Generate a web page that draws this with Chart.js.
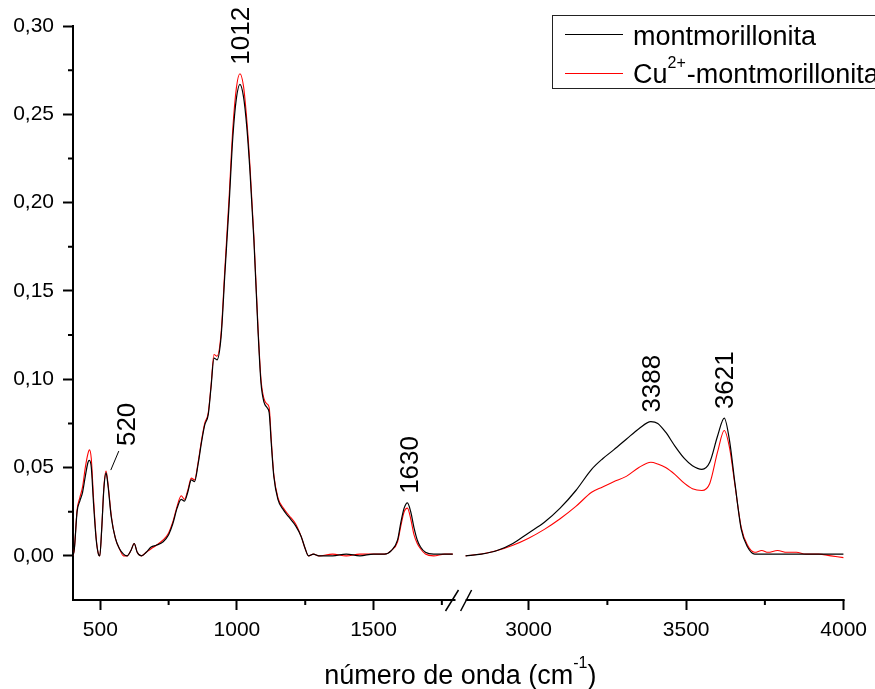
<!DOCTYPE html>
<html>
<head>
<meta charset="utf-8">
<script src="https://cdn.jsdelivr.net/npm/chart.js@4"></script>
<style>
  body { margin: 0; background: #fff; }
  #wrap { width: 875px; height: 689px; }
</style>
</head>
<body>
<div id="wrap"><canvas id="irChart"></canvas></div>
<script>
// espectro antes do corte (cm-1)
const waveLeft = [400, 405, 415, 425, 435, 445, 455, 460, 467, 475, 485, 493, 498, 505, 513, 521, 528, 540, 555, 570, 585, 598,
  612, 624, 635, 650, 668, 686, 705, 730, 750, 765, 781, 796, 808, 820, 833, 845, 858, 870, 882, 895, 905, 916, 927, 942,
  956, 971, 985, 998, 1011, 1024, 1036, 1048, 1062, 1077, 1088, 1099, 1110, 1118, 1126, 1135, 1150, 1170, 1190, 1215,
  1235, 1250, 1262, 1280, 1300, 1350, 1400, 1450, 1500, 1540, 1565, 1588, 1600, 1612, 1624, 1636, 1648, 1660, 1672,
  1690, 1720, 1760, 1790];
const montLeft = [0.000, 0.004, 0.025, 0.031, 0.036, 0.045, 0.053, 0.054, 0.050, 0.030, 0.009, 0.001, 0.000, 0.015, 0.038,
  0.047, 0.040, 0.022, 0.010, 0.004, 0.001, 0.000, 0.003, 0.007, 0.002, 0.000, 0.002, 0.005, 0.006, 0.008, 0.012, 0.018,
  0.027, 0.032, 0.031, 0.036, 0.043, 0.042, 0.052, 0.064, 0.074, 0.080, 0.095, 0.112, 0.111, 0.124, 0.160, 0.198, 0.237,
  0.259, 0.267, 0.260, 0.243, 0.217, 0.179, 0.128, 0.098, 0.087, 0.084, 0.081, 0.063, 0.045, 0.032, 0.026, 0.022, 0.017,
  0.011, 0.004, 0.000, 0.001, 0.000, 0.000, 0.001, 0.000, 0.001, 0.001, 0.003, 0.009, 0.019, 0.027, 0.030, 0.025, 0.016,
  0.009, 0.005, 0.002, 0.001, 0.001, 0.001];
const cuLeft = [0.000, 0.004, 0.026, 0.033, 0.039, 0.050, 0.058, 0.060, 0.055, 0.033, 0.010, 0.001, 0.000, 0.015, 0.039,
  0.048, 0.041, 0.023, 0.010, 0.004, 0.000, 0.000, 0.003, 0.007, 0.002, 0.000, 0.002, 0.004, 0.006, 0.009, 0.013, 0.019,
  0.028, 0.034, 0.032, 0.037, 0.044, 0.043, 0.053, 0.065, 0.075, 0.081, 0.096, 0.114, 0.113, 0.126, 0.163, 0.202, 0.242,
  0.265, 0.273, 0.266, 0.247, 0.220, 0.181, 0.130, 0.100, 0.089, 0.086, 0.084, 0.065, 0.046, 0.033, 0.027, 0.023, 0.018,
  0.011, 0.004, 0.000, 0.001, 0.000, 0.001, 0.000, 0.001, 0.001, 0.001, 0.003, 0.008, 0.017, 0.025, 0.027, 0.021, 0.012,
  0.007, 0.004, 0.001, 0.000, 0.001, 0.001];

// espectro depois do corte
const waveRight = [2800, 2850, 2900, 2950, 3000, 3050, 3100, 3150, 3200, 3235, 3270, 3310, 3350, 3388, 3410, 3435, 3465,
  3495, 3520, 3550, 3575, 3600, 3621, 3638, 3655, 3675, 3695, 3718, 3740, 3760, 3790, 3820, 3850, 3880, 3920, 3960, 4000];
const montRight = [0.000, 0.001, 0.003, 0.007, 0.013, 0.019, 0.027, 0.037, 0.049, 0.055, 0.060, 0.066, 0.072, 0.076, 0.075,
  0.070, 0.062, 0.055, 0.051, 0.049, 0.053, 0.068, 0.078, 0.065, 0.041, 0.015, 0.005, 0.001, 0.001, 0.001, 0.001, 0.001,
  0.001, 0.001, 0.001, 0.001, 0.001];
const cuRight = [0.000, 0.001, 0.003, 0.006, 0.010, 0.015, 0.021, 0.028, 0.036, 0.039, 0.042, 0.045, 0.050, 0.053, 0.052,
  0.050, 0.046, 0.041, 0.038, 0.037, 0.041, 0.059, 0.071, 0.061, 0.040, 0.016, 0.006, 0.002, 0.003, 0.002, 0.003, 0.002,
  0.002, 0.001, 0.001, 0.000, -0.001];

const xMajor = [500, 1000, 1500, 3000, 3500, 4000];
const xMinor = [750, 1250, 1750, 3250, 3750];
const yMajor = [0.00, 0.05, 0.10, 0.15, 0.20, 0.25, 0.30];
const yMinor = [0.025, 0.075, 0.125, 0.175, 0.225, 0.275];

const peakWave = [520, 1012, 1630, 3388, 3621];
const peakHeight = [0.048, 0.273, 0.030, 0.076, 0.078];

// corte do eixo x
const BREAK_FROM = 1800, BREAK_TO = 2800, GAP = 37, K = 1.153;
const toAxis = wn => wn <= BREAK_FROM ? wn : BREAK_FROM + GAP + (wn - BREAK_TO) * K;
const fromAxis = u => u <= BREAK_FROM ? u : BREAK_TO + (u - BREAK_FROM - GAP) / K;

const FONT = "'Liberation Sans', Arial, sans-serif";

function buildSeries(left, right) {
  const pts = waveLeft.map((w, i) => ({ x: toAxis(w), y: left[i] }));
  pts.push({ x: toAxis(2300), y: null });
  waveRight.forEach((w, i) => pts.push({ x: toAxis(w), y: right[i] }));
  return pts;
}

const extras = {
  id: 'extras',
  afterDraw(chart) {
    const { ctx, chartArea, scales: { x, y } } = chart;
    const px = wn => x.getPixelForValue(toAxis(wn));
    const yb = chartArea.bottom;
    ctx.save();
    ctx.strokeStyle = '#000';
    ctx.lineWidth = 2;
    // eixo x em dois trechos
    ctx.beginPath();
    ctx.moveTo(px(400) - 1, yb); ctx.lineTo(px(1800), yb);
    ctx.moveTo(px(2800), yb); ctx.lineTo(px(4000) + 1, yb);
    ctx.stroke();
    // marcas do corte
    ctx.lineWidth = 1.5;
    ctx.beginPath();
    ctx.moveTo(px(1800) - 10, yb + 11); ctx.lineTo(px(1800) + 3, yb - 10);
    ctx.moveTo(px(2800) - 5, yb + 11); ctx.lineTo(px(2800) + 6, yb - 10);
    ctx.stroke();
    // ticks menores
    ctx.lineWidth = 2;
    ctx.beginPath();
    xMinor.forEach(v => { const p = px(v); ctx.moveTo(p, yb); ctx.lineTo(p, yb + 5); });
    yMinor.forEach(v => { const p = y.getPixelForValue(v); ctx.moveTo(chartArea.left, p); ctx.lineTo(chartArea.left - 5, p); });
    ctx.stroke();

    // rotulos dos picos
    ctx.fillStyle = '#000';
    ctx.font = '26px ' + FONT;
    ctx.textAlign = 'left';
    ctx.textBaseline = 'alphabetic';
    peakWave.forEach((w, i) => {
      const py = y.getPixelForValue(peakHeight[i]);
      let bx = px(w) + 9;
      let by = py - 9;
      if (w === 520) {
        bx = px(w) + 29;
        by = py - 25;
        ctx.lineWidth = 1;
        ctx.beginPath();
        ctx.moveTo(px(w) + 5, py - 1);
        ctx.lineTo(px(w) + 13, py - 20);
        ctx.stroke();
      }
      ctx.save();
      ctx.translate(bx, by);
      ctx.rotate(-Math.PI / 2);
      ctx.fillText(String(w), 0, 0);
      ctx.restore();
    });

    // legenda
    ctx.fillStyle = '#fff';
    ctx.fillRect(552, 15, 340, 73);
    ctx.strokeStyle = '#222';
    ctx.lineWidth = 1;
    ctx.strokeRect(552.5, 15.5, 340, 73);
    ctx.beginPath();
    ctx.strokeStyle = '#000';
    ctx.moveTo(565, 34.5); ctx.lineTo(623, 34.5);
    ctx.stroke();
    ctx.beginPath();
    ctx.strokeStyle = '#ff0000';
    ctx.moveTo(565, 73.5); ctx.lineTo(623, 73.5);
    ctx.stroke();
    ctx.fillStyle = '#000';
    ctx.font = '27px ' + FONT;
    ctx.fillText('montmorillonita', 633, 45);
    ctx.fillText('Cu', 633, 83);
    let cx = 633 + ctx.measureText('Cu').width;
    ctx.font = '16px ' + FONT;
    ctx.fillText('2+', cx, 68);
    cx += ctx.measureText('2+').width + 1;
    ctx.font = '27px ' + FONT;
    ctx.fillText('-montmorillonita', cx, 83);

    // titulo do eixo x
    ctx.font = '27px ' + FONT;
    const t1 = 'número de onda (cm';
    const w1 = ctx.measureText(t1).width;
    ctx.font = '16px ' + FONT;
    const w2 = ctx.measureText('-1').width;
    ctx.font = '27px ' + FONT;
    const w3 = ctx.measureText(')').width;
    let tx = (chartArea.left + chartArea.right) / 2 - (w1 + w2 + w3) / 2 + 2;
    ctx.fillText(t1, tx, 684);
    tx += w1;
    ctx.font = '16px ' + FONT;
    ctx.fillText('-1', tx, 668);
    tx += w2;
    ctx.font = '27px ' + FONT;
    ctx.fillText(')', tx, 684);
    ctx.restore();
  }
};

new Chart(document.getElementById('irChart'), {
  type: 'line',
  data: {
    datasets: [{
      label: 'montmorillonita',
      data: buildSeries(montLeft, montRight),
      borderColor: '#000000',
      borderWidth: 1.2,
      pointRadius: 0,
      cubicInterpolationMode: 'monotone',
      spanGaps: false
    }, {
      label: 'Cu2+-montmorillonita',
      data: buildSeries(cuLeft, cuRight),
      borderColor: '#ff0000',
      borderWidth: 1.1,
      pointRadius: 0,
      cubicInterpolationMode: 'monotone',
      spanGaps: false
    }]
  },
  options: {
    responsive: true,
    maintainAspectRatio: false,
    animation: false,
    layout: { padding: { top: 26, right: 29, left: 0, bottom: 0 } },
    plugins: { legend: { display: false }, tooltip: { enabled: false } },
    scales: {
      x: {
        type: 'linear',
        min: toAxis(400),
        max: toAxis(4000),
        afterFit: s => { s.height = 89; },
        afterBuildTicks: s => { s.ticks = xMajor.map(v => ({ value: toAxis(v) })); },
        border: { display: false },
        grid: { drawOnChartArea: false, tickLength: 10, tickWidth: 2, tickColor: '#000' },
        ticks: {
          autoSkip: false,
          maxRotation: 0,
          padding: 8,
          color: '#000',
          font: { family: FONT, size: 21 },
          callback: v => String(Math.round(fromAxis(v)))
        }
      },
      y: {
        min: -0.025,
        max: 0.30,
        afterFit: s => { s.width = 73; },
        afterBuildTicks: s => { s.ticks = yMajor.map(v => ({ value: v })); },
        border: { display: true, color: '#000', width: 2 },
        grid: { drawOnChartArea: false, tickLength: 10, tickWidth: 2, tickColor: '#000' },
        ticks: {
          padding: 9,
          color: '#000',
          font: { family: FONT, size: 21 },
          callback: v => v.toFixed(2).replace('.', ',')
        }
      }
    }
  },
  plugins: [extras]
});
</script>
</body>
</html>
